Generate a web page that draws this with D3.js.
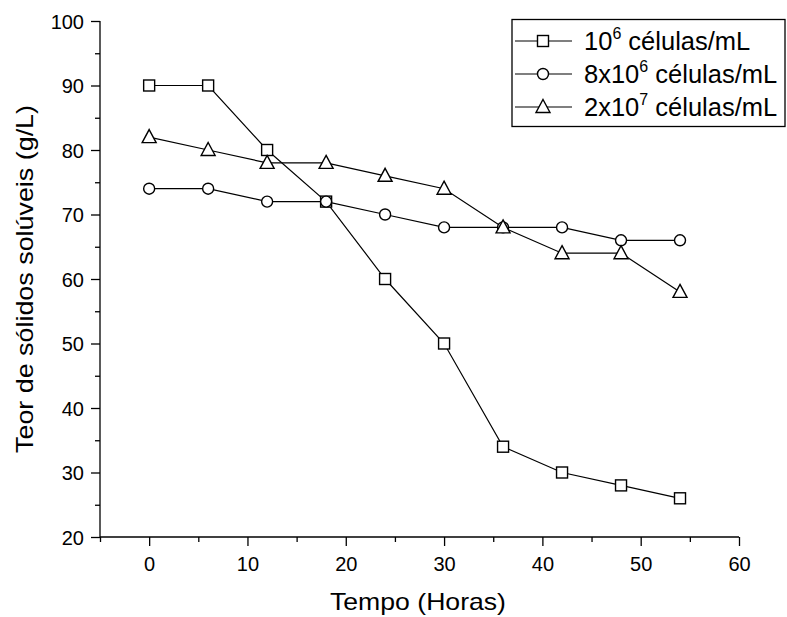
<!DOCTYPE html>
<html><head><meta charset="utf-8">
<script src="https://cdn.jsdelivr.net/npm/d3@7"></script>
<style>body{margin:0;background:#fff}svg{display:block}text{font-family:"Liberation Sans",Arial,sans-serif;fill:#000}</style>
</head><body>
<script>
const hours = [0, 6, 12, 18, 24, 30, 36, 42, 48, 54];
const s1 = [90, 90, 80, 72, 60, 50, 34, 30, 28, 26];
const s2 = [74, 74, 72, 72, 70, 68, 68, 68, 66, 66];
const s3 = [82, 80, 78, 78, 76, 74, 68, 64, 64, 58];
const xTicks = [0, 10, 20, 30, 40, 50, 60];
const yTicks = [20, 30, 40, 50, 60, 70, 80, 90, 100];
const seriesNames = [["10", "6", " células/mL"], ["8x10", "6", " células/mL"], ["2x10", "7", " células/mL"]];
const markers = ["square", "circle", "triangle"];

const W = 787, H = 617;
const svg = d3.select("body").append("svg").attr("width", W).attr("height", H);
const x = d3.scaleLinear().domain([-5, 60]).range([100, 739]);
const y = d3.scaleLinear().domain([20, 100]).range([537, 21]);

const minorX = d3.range(-5, 61, 5);
const minorY = d3.range(20, 101, 5);

// axes
const gx = svg.append("g").attr("transform", `translate(0,${y(20)})`);
gx.call(d3.axisBottom(x).tickValues(minorX).tickSize(5).tickFormat(""));
gx.call(g => g.selectAll(".tick").filter(d => xTicks.includes(d)).select("line").attr("y2", 9));
gx.call(g => g.selectAll(".tick").filter(d => xTicks.includes(d)).append("text")
  .attr("y", 34).attr("text-anchor", "middle").attr("font-size", 20).text(d => d));
gx.select(".domain").attr("d", `M${x(-5)},0H${x(60)}`);

const gy = svg.append("g").attr("transform", `translate(${x(-5)},0)`);
gy.call(d3.axisLeft(y).tickValues(minorY).tickSize(5).tickFormat(""));
gy.call(g => g.selectAll(".tick").filter(d => yTicks.includes(d)).select("line").attr("x2", -9));
gy.call(g => g.selectAll(".tick").filter(d => yTicks.includes(d)).append("text")
  .attr("x", -16).attr("dy", "0.36em").attr("text-anchor", "end").attr("font-size", 20).text(d => d));
gy.select(".domain").attr("d", `M0,${y(20)}V${y(100)}`);
svg.selectAll(".domain, .tick line").attr("stroke", "#000").attr("stroke-width", 1.3);

svg.append("text").attr("x", 418).attr("y", 610).attr("text-anchor", "middle").attr("font-size", 24)
  .attr("textLength", 176).attr("lengthAdjust", "spacingAndGlyphs").text("Tempo (Horas)");
svg.append("text").attr("transform", `translate(33,279) rotate(-90)`).attr("text-anchor", "middle").attr("font-size", 24)
  .attr("textLength", 348).attr("lengthAdjust", "spacingAndGlyphs").text("Teor de sólidos solúveis (g/L)");

function drawMarker(g, type, cx, cy) {
  if (type === "square") g.append("rect").attr("x", cx - 5.5).attr("y", cy - 5.5).attr("width", 11).attr("height", 11);
  else if (type === "circle") g.append("circle").attr("cx", cx).attr("cy", cy).attr("r", 5.5);
  else g.append("path").attr("d", `M${cx},${cy - 7.5}L${cx + 7},${cy + 5.5}L${cx - 7},${cy + 5.5}Z`);
}

const line = d3.line().x((d, i) => x(hours[i])).y(d => y(d));
[s1, s2, s3].forEach((s, k) => {
  svg.append("path").attr("d", line(s)).attr("fill", "none").attr("stroke", "#000").attr("stroke-width", 1.2);
});
[s1, s2, s3].forEach((s, k) => {
  const g = svg.append("g").attr("fill", "#fff").attr("stroke", "#000").attr("stroke-width", 1.4);
  s.forEach((v, i) => drawMarker(g, markers[k], x(hours[i]), y(v)));
});

// legend
const lg = svg.append("g");
lg.append("rect").attr("x", 512).attr("y", 19.5).attr("width", 273).attr("height", 107)
  .attr("fill", "#fff").attr("stroke", "#000").attr("stroke-width", 1.3);
seriesNames.forEach((n, k) => {
  const cy = 41 + k * 33;
  lg.append("line").attr("x1", 515).attr("x2", 572).attr("y1", cy).attr("y2", cy).attr("stroke", "#000").attr("stroke-width", 1.2);
  const g = lg.append("g").attr("fill", "#fff").attr("stroke", "#000").attr("stroke-width", 1.4);
  drawMarker(g, markers[k], 543, cy);
  const t = lg.append("text").attr("x", 584).attr("y", cy + 9).attr("font-size", 25.5);
  t.append("tspan").text(n[0]);
  t.append("tspan").attr("dy", -11).attr("font-size", 16).text(n[1]);
  t.append("tspan").attr("dy", 11).text(n[2]);
});
</script>
</body></html>
